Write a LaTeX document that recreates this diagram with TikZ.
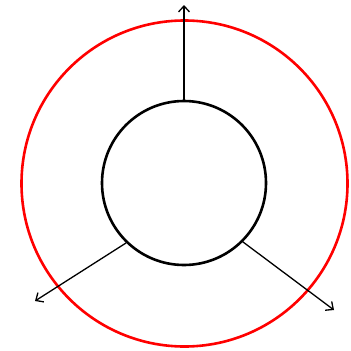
\documentclass[tikz,border=0pt]{standalone}
\usetikzlibrary{arrows.meta}
\definecolor{ringC}{HTML}{FF0000}
\definecolor{coreC}{HTML}{000000}

\begin{document}
\begin{tikzpicture}[x=1pt,y=-1pt,>={Straight Barb[length=6pt,width=11pt]},
  orb/.style={circle,inner sep=0pt,line width=2.6pt},
  ring/.style={orb,draw=ringC,minimum size=326pt},
  core/.style={orb,draw=coreC,minimum size=164pt},
  ray/.style={->,line width=1.3pt,draw=coreC}]
\useasboundingbox (0,0) rectangle (351,351);

\node[ring] (outer) at (184.5,183.5) {};
\node[core] (inner) at (184,183) {};

% tips of the rays
\coordinate (tipN) at (184,5);
\coordinate (tipW) at (35,301);
\coordinate (tipE) at (334,310);

\draw[ray] (inner.90) -- (tipN);
\draw[ray] (inner.226) -- (tipW);
\draw[ray] (inner.-45) -- (tipE);

\end{tikzpicture}
\end{document}
